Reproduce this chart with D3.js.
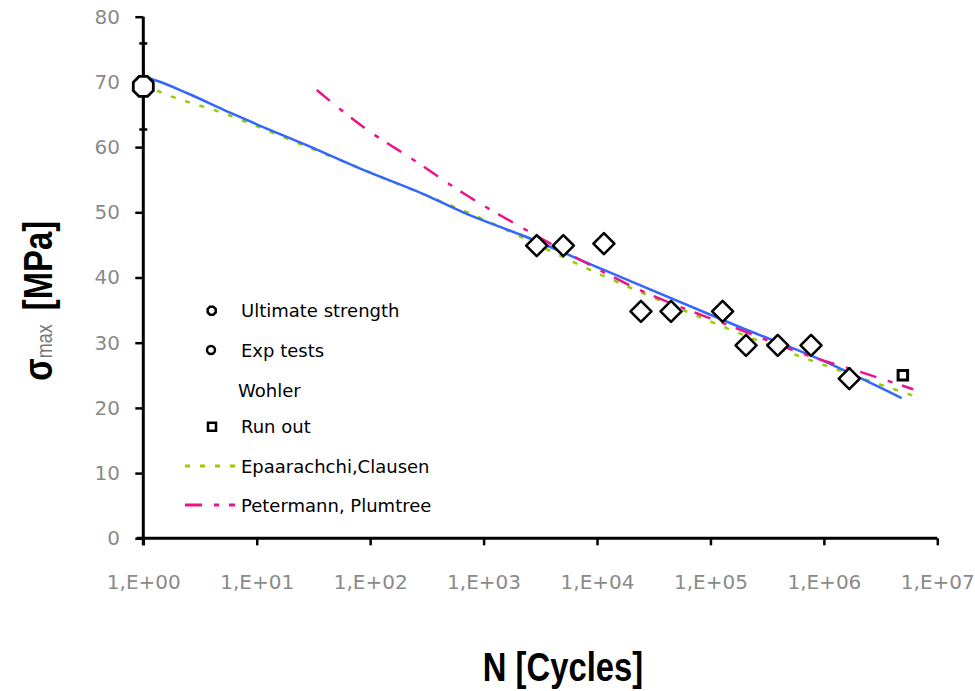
<!DOCTYPE html>
<html><head><meta charset="utf-8">
<script src="https://cdn.jsdelivr.net/npm/d3@7"></script>
<style>html,body{margin:0;padding:0;background:#fff;} svg{display:block;}</style>
</head><body>
<svg id="chart" width="975" height="691"></svg>
<script>
// ---------- data ----------
const xTickValues = [1, 10, 100, 1000, 1e4, 1e5, 1e6, 1e7];
const xTickLabels = ["1,E+00","1,E+01","1,E+02","1,E+03","1,E+04","1,E+05","1,E+06","1,E+07"];
const yTickValues = [0, 10, 20, 30, 40, 50, 60, 70, 80];

const ultimateN = [1];
const ultimateS = [69.3];
const ultimateErr = [6.6];

const expN = [2940, 5050, 11500, 24400, 44900, 128000, 206000, 392000, 771000, 1675000];
const expS = [44.9, 44.9, 45.2, 34.8, 34.8, 34.8, 29.6, 29.6, 29.6, 24.5];

const runoutN = [4970000];
const runoutS = [25.0];

const wohlerN = [1, 1.36, 2.42, 5.8, 10, 27.5, 87, 295, 660, 2240, 11350, 170000, 990000, 4850000];
const wohlerS = [70.8, 70.1, 68.3, 65.3, 63.5, 60.3, 56.5, 52.8, 50.0, 46.4, 41.2, 32.6, 27.2, 21.5];

const epaN = [1, 1.5, 5.07, 22.5, 140, 811, 11350, 89500, 292000, 1340000, 6140000];
const epaS = [69.6, 68.25, 65.2, 60.7, 55.06, 49.6, 40.26, 33.6, 30.0, 25.8, 21.87];

const peterN = [33.8, 88.3, 244, 686, 1932, 5860, 22400, 170000, 706000, 2300000, 6140000];
const peterS = [68.75, 63.0, 57.98, 52.76, 48.16, 43.5, 38.3, 32.2, 28.1, 25.3, 22.85];

const legendLabels = ["Ultimate strength", "Exp tests", "Wohler", "Run out", "Epaarachchi,Clausen", "Petermann, Plumtree"];

// ---------- setup ----------
const svg = d3.select("#chart");
const x = d3.scaleLog().domain([1, 1e7]).range([143.3, 937.3]);
const y = d3.scaleLinear().domain([0, 80]).range([538.3, 16.7]);

const BLUE = "#3366FF", GREEN = "#99CC00", PINK = "#EE1289";

const octagon = { draw(ctx, size) { const r = Math.sqrt(size) / 2, a = r * 0.42;
  ctx.moveTo(-a, -r); ctx.lineTo(a, -r); ctx.lineTo(r, -a); ctx.lineTo(r, a);
  ctx.lineTo(a, r); ctx.lineTo(-a, r); ctx.lineTo(-r, a); ctx.lineTo(-r, -a); ctx.closePath(); } };
const diamond = { draw(ctx, size) { const r = Math.sqrt(size) / 2;
  ctx.moveTo(0, -r); ctx.lineTo(r, 0); ctx.lineTo(0, r); ctx.lineTo(-r, 0); ctx.closePath(); } };

// ---------- axes ----------
const xAxis = d3.axisBottom(x).tickValues(xTickValues).tickFormat((d, i) => xTickLabels[i])
  .tickSize(7).tickSizeOuter(0).tickPadding(29.5);
const gx = svg.append("g").attr("transform", `translate(0,${y(0)})`).call(xAxis);
gx.select(".domain").remove();
gx.selectAll(".tick line").attr("stroke", "#000").attr("stroke-width", 2.5);
gx.selectAll(".tick text").attr("font-family", "DejaVu Sans").attr("font-size", 20).attr("fill", "#8a8a8a");

const yAxis = d3.axisLeft(y).tickValues(yTickValues).tickSize(8).tickSizeOuter(0).tickPadding(15.3);
const gy = svg.append("g").attr("transform", `translate(${x(1)},0)`).call(yAxis);
gy.select(".domain").remove();
gy.selectAll(".tick line").attr("stroke", "#000").attr("stroke-width", 2.5);
gy.selectAll(".tick text").attr("font-family", "DejaVu Sans").attr("font-size", 20).attr("fill", "#8a8a8a");

// axis lines
svg.append("line").attr("x1", x(1) - 6.6).attr("x2", x(1e7)).attr("y1", y(0)).attr("y2", y(0))
  .attr("stroke", "#000").attr("stroke-width", 3);
svg.append("line").attr("x1", x(1)).attr("x2", x(1)).attr("y1", y(80)).attr("y2", y(0) + 7)
  .attr("stroke", "#000").attr("stroke-width", 3);

// ---------- curves ----------
const line = d3.line().x(d => x(d[0])).y(d => y(d[1])).curve(d3.curveMonotoneX);
svg.append("path").datum(epaN.map((n, i) => [n, epaS[i]])).attr("d", line)
  .attr("fill", "none").attr("stroke", GREEN).attr("stroke-width", 2.5).attr("stroke-dasharray", "5,10");
svg.append("path").datum(wohlerN.map((n, i) => [n, wohlerS[i]])).attr("d", line)
  .attr("fill", "none").attr("stroke", BLUE).attr("stroke-width", 2.5);
svg.append("path").datum(peterN.map((n, i) => [n, peterS[i]])).attr("d", line)
  .attr("fill", "none").attr("stroke", PINK).attr("stroke-width", 2.5).attr("stroke-dasharray", "17,12,5,10");

// ---------- markers ----------
// ultimate strength with error bar
ultimateN.forEach((n, i) => {
  const cx = x(n), lo = y(ultimateS[i] - ultimateErr[i]), hi = y(ultimateS[i] + ultimateErr[i]);
  svg.append("line").attr("x1", cx).attr("x2", cx).attr("y1", lo).attr("y2", hi).attr("stroke", "#000").attr("stroke-width", 2.5);
  [lo, hi].forEach(v => svg.append("line").attr("x1", cx - 4).attr("x2", cx + 4).attr("y1", v).attr("y2", v)
    .attr("stroke", "#000").attr("stroke-width", 2.5));
});
svg.selectAll(".ult").data(ultimateN.map((n, i) => [n, ultimateS[i]])).join("path")
  .attr("transform", d => `translate(${x(d[0])},${y(d[1])})`)
  .attr("d", d3.symbol().type(octagon).size(400))
  .attr("fill", "#fff").attr("stroke", "#000").attr("stroke-width", 2.8);

svg.selectAll(".exp").data(expN.map((n, i) => [n, expS[i]])).join("path")
  .attr("transform", d => `translate(${x(d[0])},${y(d[1])})`)
  .attr("d", d3.symbol().type(diamond).size(441))
  .attr("fill", "#fff").attr("stroke", "#000").attr("stroke-width", 2.6).attr("stroke-linejoin", "round");

svg.selectAll(".run").data(runoutN.map((n, i) => [n, runoutS[i]])).join("path")
  .attr("transform", d => `translate(${x(d[0])},${y(d[1])})`)
  .attr("d", d3.symbol().type(d3.symbolSquare).size(90))
  .attr("fill", "#fff").attr("stroke", "#000").attr("stroke-width", 3);

// ---------- legend ----------
const legY = [310.7, 350, 390, 426.7, 466, 505];
const lg = svg.append("g");
legendLabels.forEach((t, i) => {
  lg.append("text").attr("x", i === 2 ? 238 : 241).attr("y", legY[i] + 6.5)
    .attr("font-family", "DejaVu Sans").attr("font-size", 18).attr("fill", "#000").text(t);
});
lg.append("path").attr("transform", `translate(211.7,${legY[0]})`).attr("d", d3.symbol().type(octagon).size(64))
  .attr("fill", "#fff").attr("stroke", "#000").attr("stroke-width", 2.5);
lg.append("path").attr("transform", `translate(211,${legY[1]})`).attr("d", d3.symbol().type(d3.symbolCircle).size(50))
  .attr("fill", "#fff").attr("stroke", "#000").attr("stroke-width", 2.5);
lg.append("path").attr("transform", `translate(212,${legY[3]})`).attr("d", d3.symbol().type(d3.symbolSquare).size(64))
  .attr("fill", "#fff").attr("stroke", "#000").attr("stroke-width", 2.5);
lg.append("line").attr("x1", 185).attr("x2", 235).attr("y1", legY[4]).attr("y2", legY[4])
  .attr("stroke", GREEN).attr("stroke-width", 3).attr("stroke-dasharray", "5,10");
lg.append("line").attr("x1", 185).attr("x2", 235).attr("y1", legY[5]).attr("y2", legY[5])
  .attr("stroke", PINK).attr("stroke-width", 3).attr("stroke-dasharray", "17,12,5,10");

// ---------- titles ----------
const yt = svg.append("text").attr("transform", "translate(52,300.8) rotate(-90) scale(0.82,1)")
  .attr("text-anchor", "middle").attr("font-family", "Liberation Sans").attr("fill", "#000");
yt.append("tspan").attr("font-size", 40).attr("font-weight", "bold").text("σ");
yt.append("tspan").attr("font-size", 22).attr("fill", "#777").text("max");
yt.append("tspan").attr("font-size", 40).attr("font-weight", "bold").attr("dx", 6).text(" [MPa]");

svg.append("text").attr("transform", "translate(563,681) scale(0.82,1)")
  .attr("text-anchor", "middle").attr("font-family", "Liberation Sans").attr("font-size", 40)
  .attr("font-weight", "bold").attr("fill", "#000").text("N [Cycles]");
</script>
</body></html>
